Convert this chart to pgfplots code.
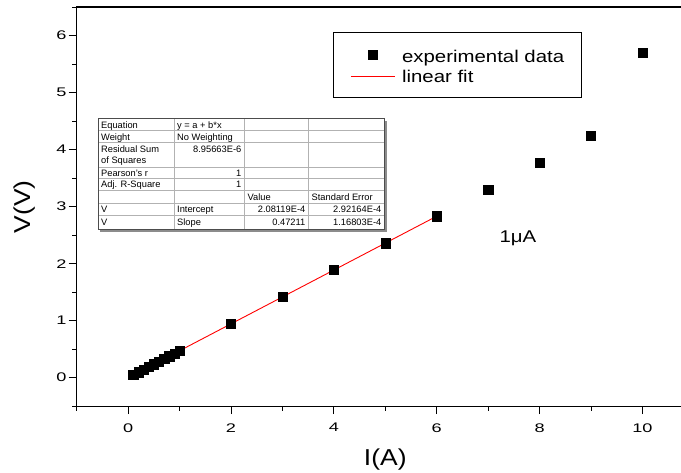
\documentclass[border=0pt]{standalone}
\usepackage{fontspec}
\setmainfont{Liberation Sans}
\newfontfamily\tickfam[FakeStretch=1.45]{Liberation Sans}
\newfontfamily\legfam[FakeStretch=1.2]{Liberation Sans}
\newfontfamily\labfam[FakeStretch=1.15]{Liberation Sans}
\usepackage{pgfplots}
\pgfplotsset{compat=1.18}
\usetikzlibrary{calc}

\newcommand\tabfont{\fontsize{9.3}{11}\selectfont}

\pgfplotsset{
  dotlegend/.style={legend image code/.code={\draw[##1] plot coordinates {(22pt,0pt)};}},
  linelegend/.style={legend image code/.code={\draw[##1, red, line width=0.9pt] (0pt,-1.3pt) -- (44pt,-1.3pt);}},
}

\begin{document}
\begin{tikzpicture}
\begin{axis}[
  scale only axis, width=617.2pt, height=399pt,
  xmin=-1, xmax=11, ymin=-0.5, ymax=6.5,
  clip=false,
  axis lines=left,
  axis line style={-, line width=1pt},
  xtick={0,2,...,10}, minor xtick={-1,1,...,11},
  ytick={0,...,6}, minor ytick={-0.5,0.5,...,6.5},
  tick align=outside, major tick length=8pt, minor tick length=4.5pt,
  tick style={black, line width=0.9pt},
  /pgf/number format/assume math mode=true,
  tick label style={font=\tickfam\fontsize{12.5}{14}\selectfont, inner sep=0pt},
  xticklabel style={yshift=-9pt},
  yticklabel style={xshift=-2pt},
  xlabel={I(A)}, ylabel={V(V)},
  label style={font=\labfam\fontsize{23}{26}\selectfont, inner sep=0pt},
  xlabel style={at={(axis description cs:0.5,0)}, anchor=north, yshift=-42pt},
  ylabel style={at={(axis description cs:-0.0676,0.5)}, anchor=south},
  legend style={at={(axis description cs:0.4153,0.938)}, anchor=north west,
    draw=black, line width=0.8pt, font=\legfam\fontsize{17}{20}\selectfont,
    inner xsep=17pt, inner ysep=12.5pt, row sep=0pt,
    nodes={inner sep=0pt, text height=18pt, text depth=2pt},
    /tikz/every odd column/.append style={column sep=6.7pt}},
  legend cell align=left,
]
\addplot[only marks, mark=square*, mark size=4.6pt, black, dotlegend]
  coordinates {
  (0.1,0.0474) (0.2,0.0946) (0.3,0.1418) (0.4,0.1891) (0.5,0.2363)
  (0.6,0.2835) (0.7,0.3307) (0.8,0.3779) (0.9,0.4251) (1.0,0.4723)
  (2,0.9444) (3,1.4165) (4,1.8887) (5,2.3608) (6,2.8329)
  (7,3.305) (8,3.777) (9,4.243) (10,5.70)};
\addlegendentry{experimental data}
\addplot[red, line width=0.9pt, no marks, linelegend]
  coordinates {(0.1,0.0474) (6,2.8329)};
\addlegendentry{linear fit}
\node[font=\legfam\fontsize{17}{20}\selectfont] at (axis cs:7.58,2.45) {1μA};
\coordinate (tl) at (rel axis cs:0,1);
\end{axis}
\begin{scope}[shift={($(tl)+(-76.7pt,7.2pt)$)}, x=1pt, y=-1pt]
  % top frame line
  \draw[black, line width=1.3pt] (76.2,7) -- (681,7);
  % fit results table
  \fill[black!45] (100.5,121.2) rectangle (386.8,231.8);
  \fill[white] (98,118.7) rectangle (384.5,229.5);
  \draw[black!30, line width=0.6pt]
    (98,130.5) -- (384.5,130.5) (98,142.5) -- (384.5,142.5)
    (98,167) -- (384.5,167) (98,178.5) -- (384.5,178.5)
    (98,190.5) -- (384.5,190.5) (98,203) -- (384.5,203)
    (98,215.5) -- (384.5,215.5)
    (174,118.7) -- (174,229.5) (244.5,118.7) -- (244.5,229.5)
    (308.5,118.7) -- (308.5,229.5);
  \draw[black!70, line width=0.8pt] (98,118.7) rectangle (384.5,229.5);
  \begin{scope}[every node/.style={inner sep=0pt, font=\tabfont}]
    \node[anchor=base west] at (101,128.3) {Equation};
    \node[anchor=base west] at (177,128.3) {y = a + b*x};
    \node[anchor=base west] at (101,140.3) {Weight};
    \node[anchor=base west] at (177,140.3) {No Weighting};
    \node[anchor=base west] at (101,153) {Residual Sum};
    \node[anchor=base west] at (101,163.5) {of Squares};
    \node[anchor=base east] at (241.5,153) {8.95663E-6};
    \node[anchor=base west] at (101,176.3) {Pearson's r};
    \node[anchor=base east] at (241.5,176.3) {1};
    \node[anchor=base west] at (101,188) {Adj. R-Square};
    \node[anchor=base east] at (241.5,188) {1};
    \node[anchor=base west] at (247.5,200.3) {Value};
    \node[anchor=base west] at (311.5,200.3) {Standard Error};
    \node[anchor=base west] at (101,212.8) {V};
    \node[anchor=base west] at (177,212.8) {Intercept};
    \node[anchor=base east] at (305.5,212.8) {2.08119E-4};
    \node[anchor=base east] at (381.5,212.8) {2.92164E-4};
    \node[anchor=base west] at (101,226) {V};
    \node[anchor=base west] at (177,226) {Slope};
    \node[anchor=base east] at (305.5,226) {0.47211};
    \node[anchor=base east] at (381.5,226) {1.16803E-4};
  \end{scope}
  \pgfresetboundingbox
  \path[use as bounding box] (0,0) rectangle (681,473);
\end{scope}
\end{tikzpicture}
\end{document}
